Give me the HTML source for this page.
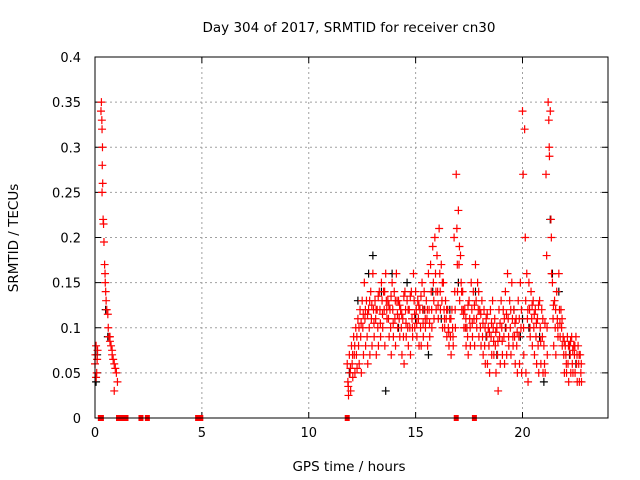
<!DOCTYPE html>
<html><head><meta charset="utf-8"><style>
body{margin:0;background:#fff}
svg{display:block;font-family:"DejaVu Sans","Liberation Sans",sans-serif}
</style></head><body>
<svg id="chart" width="640" height="480">
<text x="349" y="32" font-size="13.5" text-anchor="middle">Day 304 of 2017, SRMTID for receiver cn30</text>
<text x="349" y="471" font-size="13.5" text-anchor="middle">GPS time / hours</text>
<text transform="translate(18,238) rotate(-90)" font-size="13.5" text-anchor="middle">SRMTID / TECUs</text>
<g id="grid"></g><g id="ticks"></g><g id="marks"></g>
<rect x="95" y="57" width="513" height="361" fill="none" stroke="#000" stroke-width="1"/>
</svg>
<script>
const xTicks=[0,5,10,15,20];
const yTicks=[0,0.05,0.1,0.15,0.2,0.25,0.3,0.35,0.4];
const yTickLabels=["0","0.05","0.1","0.15","0.2","0.25","0.3","0.35","0.4"];
const mainT=[11.8,11.9,12.0,12.1,12.2,12.3,12.4,12.5,12.6,12.7,12.8,12.9,13.0,13.1,13.2,13.3,13.4,13.5,13.6,13.7,13.8,13.9,14.0,14.1,14.2,14.3,14.4,14.5,14.6,14.7,14.8,14.9,15.0,15.1,15.2,15.3,15.4,15.5,15.6,15.7,15.8,15.9,16.0,16.1,16.2,16.3,16.4,16.5,16.6,16.7,16.8,16.9,17.0,17.1,17.2,17.3,17.4,17.5,17.6,17.7,17.8,17.9,18.0,18.1,18.2,18.3,18.4,18.5,18.6,18.7,18.8,18.9,19.0,19.1,19.2,19.3,19.4,19.5,19.6,19.7,19.8,19.9,20.0,20.1,20.2,20.3,20.4,20.5,20.6,20.7,20.8,20.9,21.0,21.1,21.2,21.3,21.4,21.5,21.6,21.7,21.8,21.9,22.0,22.1,22.2,22.3,22.4,22.5,22.6,22.7];
const redHi=[.06,.07,.08,.09,.10,.11,.12,.13,.15,.13,.12,.14,.16,.13,.12,.14,.15,.14,.16,.13,.12,.15,.14,.16,.13,.12,.11,.14,.13,.12,.14,.16,.14,.13,.12,.15,.14,.13,.16,.17,.19,.20,.18,.21,.17,.15,.13,.12,.11,.12,.20,.27,.23,.18,.14,.12,.10,.13,.15,.14,.17,.15,.12,.13,.12,.11,.10,.12,.13,.11,.10,.12,.13,.12,.14,.16,.13,.15,.12,.11,.13,.15,.34,.32,.16,.15,.14,.13,.12,.11,.13,.12,.08,.27,.35,.34,.15,.13,.14,.16,.12,.09,.08,.09,.08,.09,.08,.09,.08,.07];
const redMid=[.04,.05,.06,.07,.07,.08,.09,.10,.11,.09,.10,.11,.12,.11,.10,.12,.13,.12,.13,.11,.10,.12,.11,.13,.11,.10,.09,.12,.10,.10,.11,.13,.12,.11,.10,.12,.12,.11,.12,.14,.15,.16,.14,.16,.13,.12,.11,.10,.09,.10,.14,.21,.17,.15,.12,.10,.09,.11,.12,.11,.13,.12,.10,.09,.08,.09,.08,.09,.10,.08,.07,.09,.10,.09,.10,.11,.10,.11,.09,.08,.09,.10,.27,.20,.11,.12,.11,.10,.09,.08,.10,.09,.06,.18,.33,.22,.11,.10,.11,.12,.10,.07,.07,.06,.07,.06,.07,.06,.06,.05];
const redLo=[.025,.03,.045,.05,.055,.06,.05,.07,.08,.06,.07,.08,.09,.07,.08,.09,.10,.08,.11,.09,.07,.09,.08,.10,.09,.07,.06,.09,.08,.07,.09,.10,.09,.08,.08,.09,.10,.08,.09,.10,.11,.12,.11,.12,.10,.10,.09,.08,.07,.08,.10,.14,.13,.12,.10,.08,.07,.08,.09,.08,.10,.09,.08,.07,.06,.06,.05,.07,.07,.05,.03,.06,.07,.06,.07,.08,.07,.08,.06,.05,.06,.05,.07,.05,.04,.09,.08,.07,.06,.05,.06,.05,.05,.07,.29,.16,.08,.07,.09,.09,.08,.05,.05,.04,.05,.05,.05,.04,.04,.04];
const redQ=[.035,.055,.07,.08,.09,.10,.105,.115,.12,.115,.13,.125,.105,.12,.135,.105,.115,.14,.12,.125,.135,.105,.13,.115,.125,.115,.135,.105,.12,.135,.10,.115,.105,.125,.135,.105,.11,.12,.105,.12,.13,.14,.125,.14,.15,.11,.12,.095,.11,.09,.12,.17,.19,.14,.115,.11,.125,.10,.105,.125,.11,.14,.115,.105,.10,.115,.095,.105,.085,.095,.085,.105,.085,.11,.115,.09,.12,.09,.105,.095,.11,.12,.10,.13,.12,.10,.125,.115,.105,.125,.085,.11,.105,.10,.30,.20,.125,.12,.10,.105,.11,.085,.06,.08,.085,.075,.08,.07,.07,.06];
const earlyT=[0.0,0.02,0.05,0.08,0.1,0.12,0.05,0.3,0.28,0.32,0.33,0.35,0.34,0.36,0.33,0.38,0.4,0.42,0.45,0.47,0.48,0.5,0.52,0.55,0.6,0.62,0.65,0.7,0.75,0.8,0.85,0.9,0.95,1.0,1.05,0.9,0.7,0.8];
const earlyV=[.06,.07,.08,.05,.065,.075,.045,.35,.34,.33,.32,.30,.28,.26,.25,.22,.215,.195,.17,.16,.15,.14,.13,.12,.115,.10,.09,.085,.08,.07,.065,.06,.055,.05,.04,.03,.09,.075];
const blackT=[0.05,0.1,0.5,0.6,12.3,12.8,13.0,13.4,13.9,14.2,14.6,15.0,15.4,15.8,16.2,16.6,17.0,17.4,17.8,18.3,18.8,19.2,19.6,20.0,20.3,20.8,21.3,21.4,21.7,22.2,22.5,11.9,13.6,15.6,19.9,21.0];
const blackV=[.04,.07,.12,.09,.13,.16,.18,.14,.16,.10,.15,.11,.12,.14,.11,.12,.15,.10,.14,.09,.07,.10,.12,.11,.10,.09,.22,.16,.14,.07,.06,.05,.03,.07,.09,.04];
const zeroT=[0.25,0.3,1.1,1.2,1.3,1.45,2.15,2.45,4.8,4.95,11.8,16.9,17.75];
const X0=95,X1=608,Y0=418,Y1=57,XMAX=24,YMAX=0.4;
const sx=v=>X0+v/XMAX*(X1-X0), sy=v=>Y0-v/YMAX*(Y0-Y1);
const NS="http://www.w3.org/2000/svg";
const grid=document.getElementById('grid'),ticks=document.getElementById('ticks'),marks=document.getElementById('marks');
function mk(tag,at,parent){const e=document.createElementNS(NS,tag);for(const k in at)e.setAttribute(k,at[k]);parent.appendChild(e);return e;}
xTicks.forEach(t=>{
 const x=sx(t);
 if(t>0){const g=mk('line',{x1:x,y1:Y1,x2:x,y2:Y0,stroke:'#a0a0a0','stroke-dasharray':'2,3'},grid);
 
 }
 mk('line',{x1:x,y1:Y0,x2:x,y2:Y0-6,stroke:'#000'},ticks);
 mk('line',{x1:x,y1:Y1,x2:x,y2:Y1+6,stroke:'#000'},ticks);
 const l=mk('text',{x:x,y:Y0+19,'font-size':13,'text-anchor':'middle'},ticks);l.textContent=t;
 
 
});
yTicks.forEach((t,i)=>{
 const y=sy(t);
 if(t>0&&t<YMAX){const g=mk('line',{x1:X0,y1:y,x2:X1,y2:y,stroke:'#a0a0a0','stroke-dasharray':'2,3'},grid);
 
 }
 mk('line',{x1:X0,y1:y,x2:X0+6,y2:y,stroke:'#000'},ticks);
 mk('line',{x1:X1,y1:y,x2:X1-6,y2:y,stroke:'#000'},ticks);
 const l=mk('text',{x:X0-14,y:y+5,'font-size':13,'text-anchor':'end'},ticks);l.textContent=yTickLabels[i];
 
 
});
function plus(t,v,col,name){
 const x=sx(t),y=sy(v);
 const p=mk('path',{d:`M${x-4},${y}h8M${x},${y-4}v8`,stroke:col,'stroke-width':1.2,fill:'none'},marks);
 
 
}
blackT.forEach((t,i)=>plus(t,blackV[i],'#000','black-point'));
mainT.forEach((t,i)=>{
 plus(t,redHi[i],'#f00','red-point');
 plus(t+0.03,redMid[i],'#f00','red-point');
 plus(t+0.06,redLo[i],'#f00','red-point');
 plus(t+0.05,redQ[i],'#f00','red-point');
});
earlyT.forEach((t,i)=>plus(t,earlyV[i],'#f00','red-point'));
zeroT.forEach(t=>{
 const r=mk('rect',{x:sx(t)-2.5,y:Y0-3,width:5,height:6,fill:'#f00'},marks);
 
 
});
</script>
</body></html>
